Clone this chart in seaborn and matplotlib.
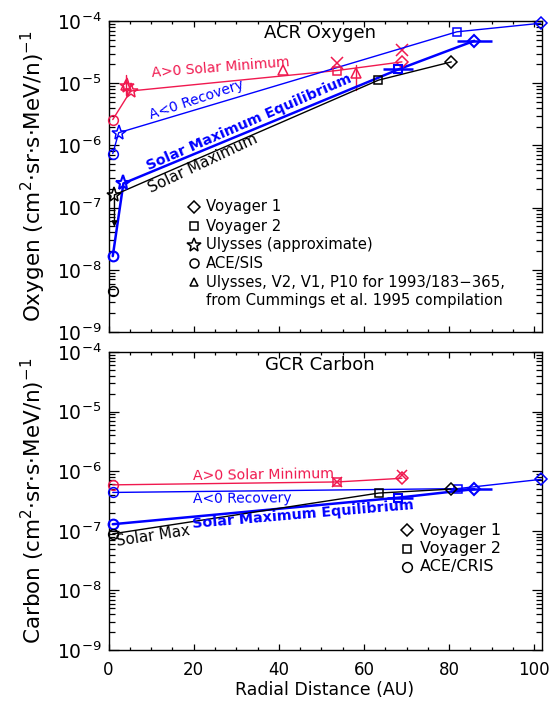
import numpy as np
import pandas as pd
import matplotlib
matplotlib.use("Agg")
import matplotlib.pyplot as plt
import seaborn as sns
from matplotlib.ticker import FixedLocator, MultipleLocator, LogFormatterMathtext, NullFormatter

RED = "#f0194f"
BLUE = "#0000ff"
BLACK = "#000000"

# ---------------- ACR Oxygen (top panel) ----------------
o_min_x = [1.0, 5.2, 53.7, 68.9]
o_min_y = [2.6e-6, 7.5e-6, 1.6e-5, 2.2e-5]
o_min_mk = ["o", "*", "s", "D"]
o_min_star2_x = [4.4]
o_min_star2_y = [9.0e-6]
o_min_cross_x = [53.6, 68.9]
o_min_cross_y = [2.1e-5, 3.4e-5]
o_cumm_x = [4.2, 41.0, 58.1]
o_cumm_y = [9.3e-6, 1.66e-5, 1.45e-5]
o_cumm_lo = [6.4e-6, np.nan, 7.8e-6]
o_cumm_hi = [1.35e-5, np.nan, 1.95e-5]

o_rec_x = [1.0, 2.4, 81.8, 101.5]
o_rec_y = [7.4e-7, 1.6e-6, 6.7e-5, 9.2e-5]
o_rec_mk = ["o", "*", "s", "D"]

o_eq_x = [1.0, 3.5, 68.1, 85.9]
o_eq_y = [1.66e-8, 2.45e-7, 1.67e-5, 4.8e-5]
o_eq_mk = ["o", "*", "s", "D"]
o_eq_xlo = [np.nan, np.nan, 64.5, 81.8]
o_eq_xhi = [np.nan, np.nan, 71.5, 90.0]

o_max_x = [1.4, 63.4, 80.5]
o_max_y = [1.6e-7, 1.12e-5, 2.2e-5]
o_max_mk = ["*", "s", "D"]
o_max_ace_x = [1.0]
o_max_ace_y = [4.5e-9]
o_max_limit_to = 4.9e-8

# ---------------- GCR Carbon (bottom panel) ----------------
c_min_x = [1.0, 53.6, 68.9]
c_min_y = [5.9e-7, 6.6e-7, 7.6e-7]
c_min_mk = ["o", "s", "D"]
c_min_cross_x = [53.6, 68.9]
c_min_cross_y = [6.6e-7, 8.5e-7]

c_rec_x = [1.0, 82.0, 101.6]
c_rec_y = [4.4e-7, 5.1e-7, 7.3e-7]
c_rec_mk = ["o", "s", "D"]

c_eq_x = [1.0, 68.1, 85.9]
c_eq_y = [1.29e-7, 3.6e-7, 5.0e-7]
c_eq_mk = ["o", "s", "D"]
c_eq_xlo = [np.nan, 65.3, 80.2]
c_eq_xhi = [np.nan, 71.6, 90.0]

c_max_x = [1.0, 63.5, 80.4]
c_max_y = [8.9e-8, 4.3e-7, 5.0e-7]
c_max_mk = ["o", "s", "D"]

y_decades = [1e-9, 1e-8, 1e-7, 1e-6, 1e-5, 1e-4]
x_ticks = [0, 20, 40, 60, 80, 100]

legend_top = ["Voyager 1", "Voyager 2", "Ulysses (approximate)", "ACE/SIS",
              "Ulysses, V2, V1, P10 for 1993/183\u2212365,",
              "from Cummings et al. 1995 compilation"]
legend_top_mk = ["D", "s", "*", "o", "^", None]
legend_bot = ["Voyager 1", "Voyager 2", "ACE/CRIS"]
legend_bot_mk = ["D", "s", "o"]

# ---------------- style ----------------
sns.set_theme(style="ticks")
plt.rcParams["font.family"] = ["DejaVu Sans"]
plt.rcParams["mathtext.default"] = "regular"
plt.rcParams["text.color"] = "black"
plt.rcParams["xtick.color"] = "black"
plt.rcParams["ytick.color"] = "black"
plt.rcParams["axes.labelcolor"] = "black"

W, H = 552, 706
fig = plt.figure(figsize=(W / 100, H / 100), dpi=100)
fig.patch.set_facecolor("white")


def fx(px):
    return px / W


def fy(py):
    return 1 - py / H


L, R = 108.5, 542.0
ax1 = fig.add_axes([fx(L), fy(332), (R - L) / W, (332 - 21) / H])
ax2 = fig.add_axes([fx(L), fy(650), (R - L) / W, (650 - 352) / H])

MS = {"o": 7, "*": 11, "s": 6, "D": 6.5, "^": 6.5}


def series(ax, xs, ys, mks, color, lw, connect=True):
    if connect:
        df = pd.DataFrame({"x": xs, "y": ys})
        sns.lineplot(data=df, x="x", y="y", ax=ax, color=color, lw=lw,
                     sort=False, estimator=None, legend=False)
    for x, y, m in zip(xs, ys, mks):
        ax.plot([x], [y], ls="none", marker=m, ms=MS[m], mfc="none",
                mec=color, mew=1.1 if lw < 1.5 else 1.5, clip_on=False, zorder=4)


def xbars(ax, ys, lo, hi, color, lw):
    for y, a, b in zip(ys, lo, hi):
        if np.isfinite(a):
            ax.plot([a, b], [y, y], color=color, lw=lw, solid_capstyle="butt")


# top panel
series(ax1, o_min_x, o_min_y, o_min_mk, RED, 1.0)
series(ax1, o_min_star2_x, o_min_star2_y, ["*"], RED, 1.0, connect=False)
ax1.plot(o_min_cross_x, o_min_cross_y, ls="none", marker="x", ms=8, mec=RED, mew=1.1)
series(ax1, o_cumm_x, o_cumm_y, ["^"] * 3, RED, 1.0, connect=False)
for x, lo, hi in zip(o_cumm_x, o_cumm_lo, o_cumm_hi):
    if np.isfinite(lo):
        ax1.plot([x, x], [lo, hi], color=RED, lw=1.0)
series(ax1, o_rec_x, o_rec_y, o_rec_mk, BLUE, 1.0)
series(ax1, o_eq_x, o_eq_y, o_eq_mk, BLUE, 1.8)
xbars(ax1, o_eq_y, o_eq_xlo, o_eq_xhi, BLUE, 1.8)
series(ax1, o_max_x, o_max_y, o_max_mk, BLACK, 1.0)
series(ax1, o_max_ace_x, o_max_ace_y, ["o"], BLACK, 1.0, connect=False)
ax1.annotate("", xy=(o_max_x[0], o_max_limit_to), xytext=(o_max_x[0], o_max_y[0]),
             arrowprops=dict(arrowstyle="-|>", color=BLACK, lw=1.0, mutation_scale=8,
                             shrinkA=0, shrinkB=0))

# bottom panel
series(ax2, c_min_x, c_min_y, c_min_mk, RED, 1.0)
ax2.plot(c_min_cross_x, c_min_cross_y, ls="none", marker="x", ms=7, mec=RED, mew=1.1)
series(ax2, c_rec_x, c_rec_y, c_rec_mk, BLUE, 1.0)
series(ax2, c_eq_x, c_eq_y, c_eq_mk, BLUE, 1.8)
xbars(ax2, c_eq_y, c_eq_xlo, c_eq_xhi, BLUE, 1.8)
series(ax2, c_max_x, c_max_y, c_max_mk, BLACK, 1.0)

minor_y = [d * k for d in y_decades[:-1] for k in range(2, 10)]
minor_x = [v for v in np.arange(0, 101, 5) if v % 20 != 0]

for ax in (ax1, ax2):
    ax.set_yscale("log")
    ax.set_xlim(0, 101.8)
    ax.set_ylim(1e-9, 1e-4)
    ax.set_xlabel("")
    ax.set_ylabel("")
    ax.xaxis.label.set_visible(False)
    ax.yaxis.label.set_visible(False)
    ax.xaxis.set_major_locator(FixedLocator(x_ticks))
    ax.xaxis.set_minor_locator(FixedLocator(minor_x))
    ax.yaxis.set_major_locator(FixedLocator(y_decades))
    ax.yaxis.set_minor_locator(FixedLocator(minor_y))
    ax.yaxis.set_major_formatter(LogFormatterMathtext())
    ax.yaxis.set_minor_formatter(NullFormatter())
    ax.tick_params(axis="both", which="both", direction="in", top=True, right=True,
                   color="black", labelcolor="black", width=0.9)
    ax.tick_params(axis="x", which="major", length=4, labelsize=12, pad=8)
    ax.tick_params(axis="x", which="minor", length=2)
    ax.tick_params(axis="y", which="major", length=7, labelsize=13.5, pad=5)
    ax.tick_params(axis="y", which="minor", length=4.5)
    for s in ax.spines.values():
        s.set_linewidth(1.0)
        s.set_color("black")
    ax.set_facecolor("white")
    ax.grid(False)

ax1.tick_params(axis="x", labelbottom=False)
fig.text(fx(325), fy(690), "Radial Distance (AU)", ha="center", va="center",
         fontsize=12.5)

fig.text(fx(33), fy(176.5),
         r"Oxygen (cm$^2$$\cdot$sr$\cdot$s$\cdot$MeV/n)$^{-1}$",
         rotation=90, ha="center", va="center", fontsize=15.5)
fig.text(fx(33), fy(501),
         r"Carbon (cm$^2$$\cdot$sr$\cdot$s$\cdot$MeV/n)$^{-1}$",
         rotation=90, ha="center", va="center", fontsize=15.5)

fig.text(fx(320), fy(33), "ACR Oxygen", ha="center", va="center", fontsize=13)
fig.text(fx(320), fy(365), "GCR Carbon", ha="center", va="center", fontsize=13)


def label(px, py, s, rot, color, size, weight="normal"):
    fig.text(fx(px), fy(py), s, rotation=rot, rotation_mode="anchor", ha="left",
             va="baseline", color=color, fontsize=size, fontweight=weight)


label(152, 77, "A>0 Solar Minimum", 4.5, RED, 10)
label(151, 119, "A<0 Recovery", 18.4, BLUE, 10)
label(149, 170, "Solar Maximum Equilibrium", 23.5, BLUE, 10.3, "bold")
label(151, 193, "Solar Maximum", 25.3, BLACK, 11)

label(193, 480.5, "A>0 Solar Minimum", 0.8, RED, 10.2)
label(193, 503, "A<0 Recovery", 0.4, BLUE, 10)
label(193, 528, "Solar Maximum Equilibrium", 4.9, BLUE, 10.3, "bold")
label(117, 546, "Solar Max", 8.6, BLACK, 10.8)

# legends
rows_top = [207, 226, 245, 263, 282, 301]
for yy, txt, mk in zip(rows_top, legend_top, legend_top_mk):
    if mk is not None:
        ms = {"D": 6, "s": 5.5, "*": 10, "o": 6.5, "^": 5.5}[mk]
        ax1.plot([fx(194)], [fy(yy)], transform=fig.transFigure, marker=mk, ms=ms,
                 mfc="none", mec="black", mew=1.1, ls="none", clip_on=False)
    fig.text(fx(206), fy(yy), txt, ha="left", va="center", fontsize=10.7)

rows_bot = [530, 548.5, 567]
for yy, txt, mk in zip(rows_bot, legend_bot, legend_bot_mk):
    ms = {"D": 6.5, "s": 6, "o": 7}[mk]
    ax2.plot([fx(407)], [fy(yy)], transform=fig.transFigure, marker=mk, ms=ms,
             mfc="none", mec="black", mew=1.1, ls="none", clip_on=False)
    fig.text(fx(420), fy(yy), txt, ha="left", va="center", fontsize=11.5)

fig.savefig("out.png", dpi=100, facecolor="white")
